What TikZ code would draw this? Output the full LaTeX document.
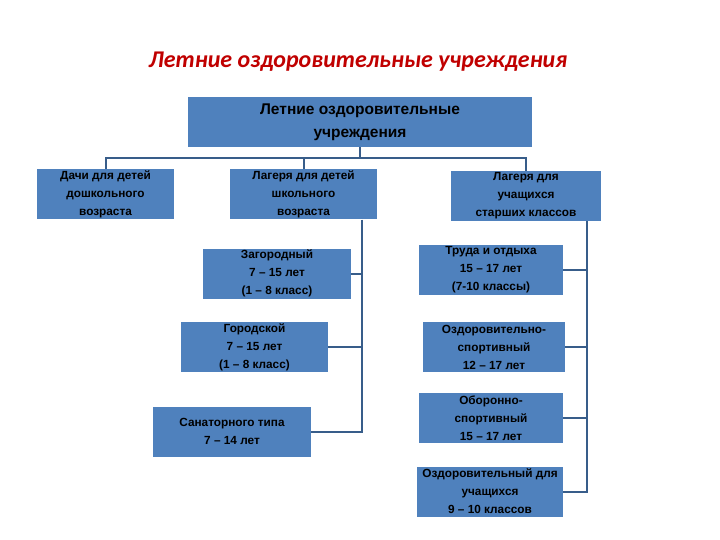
\documentclass[tikz,border=0pt]{standalone}
\usepackage{fontspec}
\setmainfont{Liberation Sans}
\newfontfamily\titlefont{Carlito}
\usetikzlibrary{positioning,calc}
\definecolor{boxblue}{HTML}{4F81BD}
\definecolor{lineblue}{HTML}{385D8A}
\definecolor{titlered}{HTML}{C00000}

\begin{document}
\begin{tikzpicture}[x=1pt,y=-1pt,
    blk/.style={fill=boxblue,align=center,inner sep=0pt,minimum height=50pt,
      font=\bfseries\fontsize{11.8}{18}\selectfont},
    link/.style={draw=lineblue,line width=2pt}]
        \useasboundingbox (0,0) rectangle (720,540);
        \node[titlered,font=\titlefont\bfseries\itshape\fontsize{24}{28}\selectfont] (title) at (358,62) {Летние оздоровительные учреждения};
        \node[blk,minimum width=344pt,font=\bfseries\fontsize{15.5}{23}\selectfont] (root) at (360,122) {Летние оздоровительные\\учреждения};
        % first level
        \node[blk,minimum width=137pt] (dachi) at (105.5,194.5) {Дачи для детей\\дошкольного\\возраста};
        \node[blk,minimum width=147pt] (lag2) at (303.5,194.5) {Лагеря для детей\\школьного\\возраста};
        \node[blk,minimum width=150pt] (lag3) at (526,196) {Лагеря для\\учащихся\\старших классов};
        % camps for school children
        \node[blk,minimum width=148pt] (zag) at (277,273.5) {Загородный\\7 – 15 лет\\(1 – 8 класс)};
        \node[blk,minimum width=147pt] (gor) at (254.5,347) {Городской\\7 – 15 лет\\(1 – 8 класс)};
        \node[blk,minimum width=158pt] (san) at (232,431.5) {Санаторного типа\\7 – 14 лет};
        % camps for senior pupils
        \node[blk,minimum width=144pt] (trud) at (491,269.5) {Труда и отдыха\\15 – 17 лет\\(7-10 классы)};
        \node[blk,minimum width=142pt] (ozs) at (494,347) {Оздоровительно-\\спортивный\\12 – 17 лет};
        \node[blk,minimum width=144pt] (obo) at (491,418) {Оборонно-\\спортивный\\15 – 17 лет};
        \node[blk,minimum width=146pt] (ozu) at (490,491.5) {Оздоровительный для\\учащихся\\9 – 10 классов};
        % connectors
        \coordinate (jn) at (0,158);
        \coordinate (busL) at (362,0);
        \coordinate (busR) at (587,0);
        \draw[link] (root.south) -- (root.south |- jn);
        \draw[link] (dachi.north) -- (dachi.north |- jn) -- (lag3.north |- jn) -- (lag3.north);
        \draw[link] (lag2.north) -- (lag2.north |- jn);
        \draw[link] (lag2.south -| busL) |- (san.east);
        \foreach \nm in {zag,gor}{
          \draw[link] (\nm.east) -- (\nm.east -| busL);
        }
        \draw[link] (lag3.south -| busR) |- (ozu.east);
        \foreach \nm in {trud,ozs,obo}{
          \draw[link] (\nm.east) -- (\nm.east -| busR);
        }
      \end{tikzpicture}
\end{document}
